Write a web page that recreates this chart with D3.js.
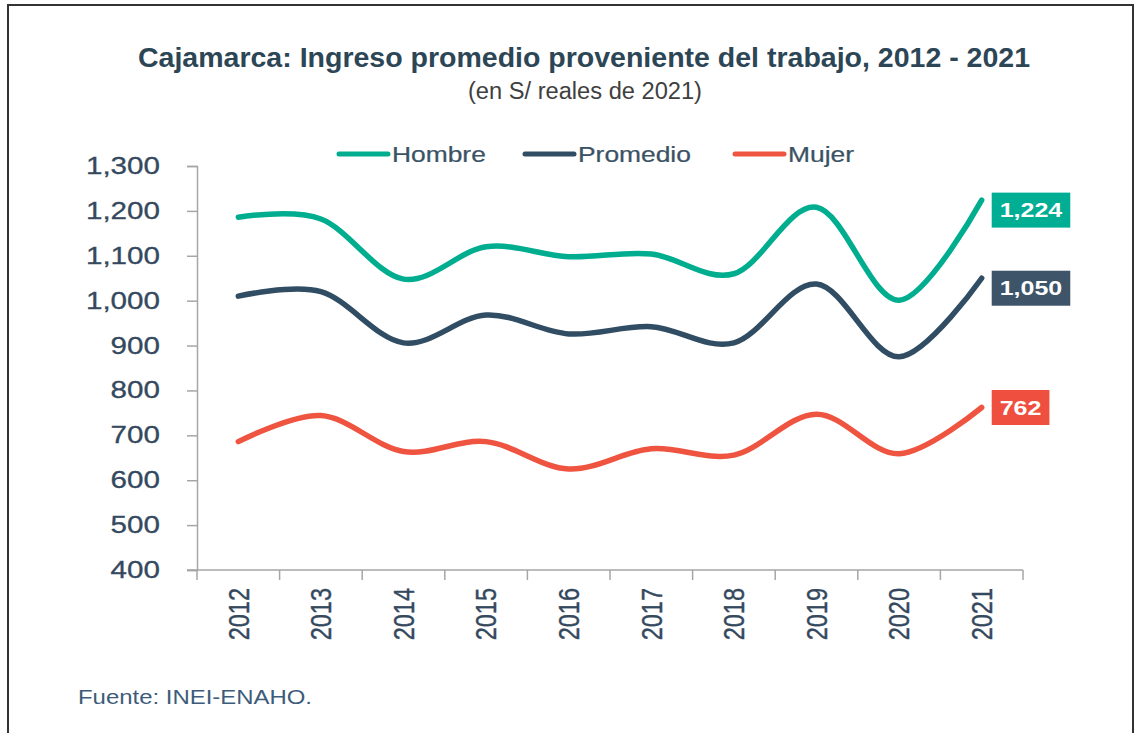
<!DOCTYPE html>
<html lang="es">
<head>
<meta charset="UTF-8">
<title>Cajamarca: Ingreso promedio</title>
<script src="https://d3js.org/d3.v7.min.js"></script>
<style>
  body { margin: 0; background: #fff; }
  svg text { font-family: "Liberation Sans", Arial, sans-serif; }
</style>
</head>
<body>
<div id="chart"></div>
<script>
// data
const years = ["2012","2013","2014","2015","2016","2017","2018","2019","2020","2021"];
const hombre   = [1186, 1182, 1048, 1120, 1098, 1104, 1060, 1208, 1001, 1224];
const promedio = [1010, 1020,  906,  968,  926,  942,  906, 1037,  875, 1050];
const mujer    = [ 686,  744,  664,  686,  625,  670,  656,  747,  659,  762];
const yTicks   = [400, 500, 600, 700, 800, 900, 1000, 1100, 1200, 1300];

const series = [
  {name: "Hombre",   values: hombre,   color: "#00ad8f", box: "#00ae94", dy: 10},
  {name: "Promedio", values: promedio, color: "#314d63", box: "#3d5469", dy: 10},
  {name: "Mujer",    values: mujer,    color: "#ef5441", box: "#ee4f3f", dy: 0}
];

const W = 1135, H = 733;
const textColor = "#34495e";

const svg = d3.select("#chart").append("svg")
  .attr("width", W).attr("height", H);

// frame
svg.append("rect")
  .attr("x", 8).attr("y", 5).attr("width", 1125).attr("height", 760)
  .attr("fill", "none").attr("stroke", "#333").attr("stroke-width", 2);

// stretch text horizontally around its anchor
function stretch(sel, k, rot) {
  sel.each(function() {
    const t = d3.select(this);
    const x = +t.attr("x") || 0, y = +t.attr("y") || 0;
    t.attr("x", 0).attr("y", 0)
      .attr("transform", `translate(${x},${y}) scale(${k},1)` + (rot ? ` rotate(${rot})` : ""));
  });
}

const x = d3.scaleBand().domain(years).range([197, 1023]);
const xc = d => x(d) + x.bandwidth() / 2;
const y = d3.scaleLinear().domain([400, 1300]).range([570, 166]);

// title
svg.append("text")
  .attr("x", 584).attr("y", 67)
  .attr("text-anchor", "middle")
  .attr("font-size", 28).attr("font-weight", "bold")
  .attr("fill", "#2d4656")
  .attr("textLength", 892).attr("lengthAdjust", "spacingAndGlyphs")
  .text("Cajamarca: Ingreso promedio proveniente del trabajo, 2012 - 2021");

svg.append("text")
  .attr("x", 585).attr("y", 99)
  .attr("text-anchor", "middle")
  .attr("font-size", 23)
  .attr("fill", "#404040")
  .attr("textLength", 234).attr("lengthAdjust", "spacingAndGlyphs")
  .text("(en S/ reales de 2021)");

// y axis
const yAxis = svg.append("g")
  .attr("transform", "translate(197,0)")
  .call(d3.axisLeft(y).tickValues(yTicks).tickSize(10).tickPadding(27).tickFormat(d3.format(",")));
yAxis.selectAll("path, line").attr("stroke", "#a6a6a6").attr("stroke-width", 1.5);
yAxis.selectAll("text")
  .attr("font-size", 23.5).attr("fill", textColor)
  .attr("stroke", textColor).attr("stroke-width", 0.3)
  .attr("font-family", "Liberation Sans, Arial, sans-serif");
stretch(yAxis.selectAll("text"), 1.26);

// x axis
const xAxis = svg.append("g")
  .attr("transform", "translate(0,570)")
  .call(d3.axisBottom(x).tickSize(0).tickFormat(d => d));
xAxis.select("path").attr("d", "M187,0H1023").attr("stroke", "#a6a6a6").attr("stroke-width", 1.5);
// ticks at band edges
xAxis.selectAll("line.edge")
  .data(years.concat(["end"]))
  .join("line")
  .attr("class", "edge")
  .attr("x1", (d, i) => i < years.length ? x(d) : x.range()[1])
  .attr("x2", (d, i) => i < years.length ? x(d) : x.range()[1])
  .attr("y1", 0).attr("y2", 10)
  .attr("stroke", "#a6a6a6").attr("stroke-width", 1.5);
xAxis.selectAll(".tick text")
  .attr("font-size", 23.5).attr("fill", textColor)
  .attr("stroke", textColor).attr("stroke-width", 0.3)
  .attr("font-family", "Liberation Sans, Arial, sans-serif")
  .attr("text-anchor", "end")
  .attr("x", 0).attr("y", 18).attr("dy", "0.35em");
stretch(xAxis.selectAll(".tick text"), 1.25, -90);

// lines
const line = d3.line()
  .x((d, i) => xc(years[i]))
  .y(d => y(d))
  .curve(d3.curveCardinal.tension(0));

svg.append("g").selectAll("path")
  .data(series)
  .join("path")
  .attr("d", s => line(s.values))
  .attr("fill", "none")
  .attr("stroke", s => s.color)
  .attr("stroke-width", 5.5)
  .attr("stroke-linecap", "round")
  .attr("stroke-linejoin", "round");

// legend
const legendX = [339, 525, 735];
const legend = svg.append("g");
series.forEach((s, i) => {
  legend.append("line")
    .attr("x1", legendX[i]).attr("x2", legendX[i] + 49)
    .attr("y1", 154).attr("y2", 154)
    .attr("stroke", s.color).attr("stroke-width", 5).attr("stroke-linecap", "round");
  legend.append("text")
    .attr("x", legendX[i] + 53).attr("y", 162)
    .attr("font-size", 22).attr("fill", "#3b5264")
    .attr("stroke", "#3b5264").attr("stroke-width", 0.25)
    .text(s.name);
});
stretch(legend.selectAll("text"), 1.2);

// end value labels
const last = years.length - 1;
series.forEach(s => {
  const v = s.values[last];
  const cy = y(v) + s.dy;
  const g = svg.append("g");
  const t = g.append("text")
    .attr("font-size", 20).attr("font-weight", "bold")
    .attr("fill", "#fff")
    .text(d3.format(",")(v));
  const tw = t.node().getComputedTextLength() * 1.25;
  const bx = xc(years[last]) + 10;
  const bw = tw + 16;
  g.insert("rect", "text")
    .attr("x", bx).attr("y", cy - 17.5)
    .attr("width", bw).attr("height", 35)
    .attr("fill", s.box);
  t.attr("x", bx + bw / 2).attr("y", cy + 7).attr("text-anchor", "middle");
  stretch(t, 1.25);
});

// source
const src = svg.append("text")
  .attr("x", 78).attr("y", 704)
  .attr("font-size", 21).attr("fill", "#3d5c7a")
  .text("Fuente: INEI-ENAHO.");
stretch(src, 1.14);
</script>
</body>
</html>
